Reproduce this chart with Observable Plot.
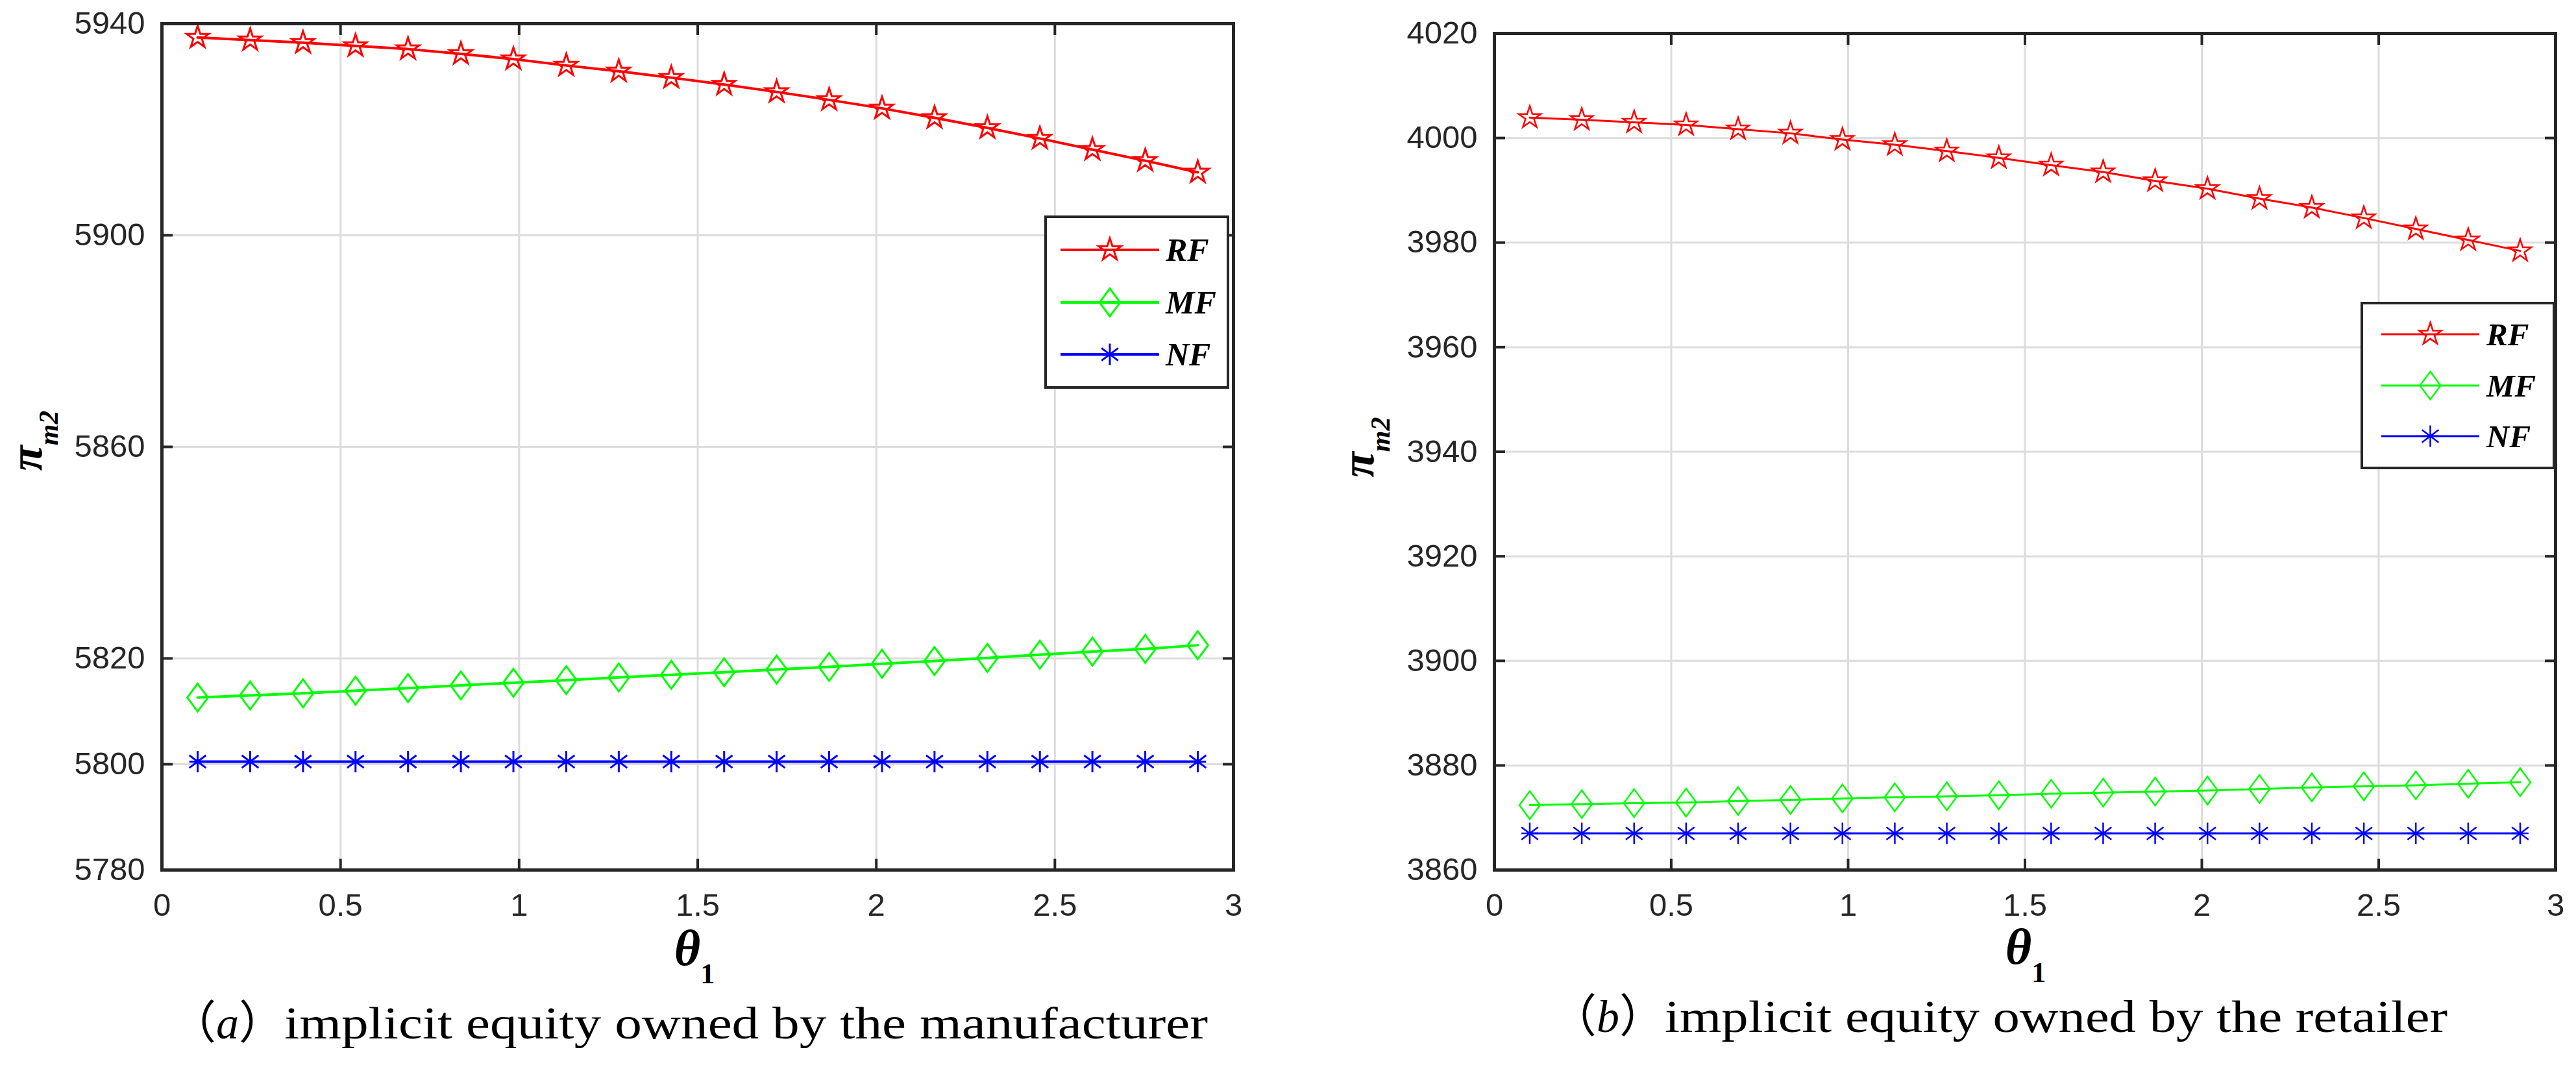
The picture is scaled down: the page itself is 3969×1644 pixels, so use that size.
<!DOCTYPE html>
<html>
<head>
<meta charset="utf-8">
<script src="https://cdn.jsdelivr.net/npm/d3@7"></script>
<script src="https://cdn.jsdelivr.net/npm/@observablehq/plot@0.6"></script>
<style>
  html, body { margin: 0; padding: 0; background: #fff; }
  #page { position: relative; width: 3969px; height: 1644px; overflow: hidden; background: #fff; }
  #page > svg { position: absolute; top: 0; }
</style>
</head>
<body>
<div id="page"></div>
<script>
// theta_1 sampled at 20 points between 0.1 and 2.9
const theta = [0.100, 0.247, 0.395, 0.542, 0.689, 0.837, 0.984, 1.132, 1.279, 1.426,
               1.574, 1.721, 1.868, 2.016, 2.163, 2.311, 2.458, 2.605, 2.753, 2.900];
const seriesNames = ['RF', 'MF', 'NF'];
const seriesColors = ['#ff0000', '#00ff00', '#0000ff'];
const xTicks = [0, 0.5, 1, 1.5, 2, 2.5, 3];

// (a) implicit equity owned by the manufacturer
const mfgRF = [5937.4, 5936.9, 5936.4, 5935.8, 5935.2, 5934.3, 5933.3, 5932.1, 5931.0, 5929.8,
               5928.5, 5927.1, 5925.6, 5924.0, 5922.2, 5920.3, 5918.3, 5916.2, 5914.1, 5911.9];
const mfgMF = [5812.6, 5813.0, 5813.4, 5813.9, 5814.4, 5814.9, 5815.4, 5815.9, 5816.4, 5816.9,
               5817.4, 5817.9, 5818.4, 5819.0, 5819.5, 5820.1, 5820.7, 5821.3, 5821.8, 5822.5];
const mfgNF = [5800.5, 5800.5, 5800.5, 5800.5, 5800.5, 5800.5, 5800.5, 5800.5, 5800.5, 5800.5,
               5800.5, 5800.5, 5800.5, 5800.5, 5800.5, 5800.5, 5800.5, 5800.5, 5800.5, 5800.5];
const mfgYTicks = [5780, 5800, 5820, 5860, 5900, 5940];

// (b) implicit equity owned by the retailer
const retRF = [4003.9, 4003.5, 4003.0, 4002.5, 4001.7, 4000.9, 3999.7, 3998.7, 3997.5, 3996.2,
               3994.8, 3993.5, 3991.8, 3990.3, 3988.4, 3986.7, 3984.7, 3982.6, 3980.5, 3978.4];
const retMF = [3872.4, 3872.6, 3872.8, 3872.9, 3873.2, 3873.4, 3873.7, 3873.9, 3874.1, 3874.3,
               3874.6, 3874.8, 3875.0, 3875.2, 3875.5, 3875.8, 3876.0, 3876.2, 3876.5, 3876.8];
const retNF = [3867.0, 3867.0, 3867.0, 3867.0, 3867.0, 3867.0, 3867.0, 3867.0, 3867.0, 3867.0,
               3867.0, 3867.0, 3867.0, 3867.0, 3867.0, 3867.0, 3867.0, 3867.0, 3867.0, 3867.0];
const retYTicks = [3860, 3880, 3900, 3920, 3940, 3960, 3980, 4000, 4020];

// MATLAB-like marker shapes: pentagram, tall diamond, asterisk
const pentagram = {
  draw(ctx, size) {
    const R = Math.sqrt(size / Math.PI), r = R * 0.382;
    for (let i = 0; i < 10; i++) {
      const a = -Math.PI / 2 + i * Math.PI / 5, rr = i % 2 ? r : R;
      if (i) ctx.lineTo(rr * Math.cos(a), rr * Math.sin(a));
      else ctx.moveTo(rr * Math.cos(a), rr * Math.sin(a));
    }
    ctx.closePath();
  }
};
const tallDiamond = {
  draw(ctx, size) {
    const h = Math.sqrt(size / Math.PI), w = h * 0.74;
    ctx.moveTo(0, -h); ctx.lineTo(w, 0); ctx.lineTo(0, h); ctx.lineTo(-w, 0); ctx.closePath();
  }
};
const asterisk = {
  draw(ctx, size) {
    const h = Math.sqrt(size / Math.PI), d = h * 0.78;
    ctx.moveTo(0, -h); ctx.lineTo(0, h);
    ctx.moveTo(-d, -d * 0.75); ctx.lineTo(d, d * 0.75);
    ctx.moveTo(-d, d * 0.75); ctx.lineTo(d, -d * 0.75);
    ctx.moveTo(-d, 0); ctx.lineTo(d, 0);
  }
};
const seriesSymbols = [pentagram, tallDiamond, asterisk];
const seriesR = [18, 21.5, 16.5];

function panelData(rf, mf, nf) {
  return [rf, mf, nf].flatMap((vals, k) =>
    vals.map((v, i) => ({theta: theta[i], value: v, series: seriesNames[k]})));
}

function panel(opts) {
  const data = panelData(...opts.series);
  const seriesMarks = seriesNames.flatMap((name, k) => {
    const rows = data.filter(d => d.series === name);
    return [
      Plot.line(rows, {x: 'theta', y: 'value', stroke: seriesColors[k], strokeWidth: opts.lineWidth}),
      Plot.dot(rows, {x: 'theta', y: 'value', stroke: seriesColors[k], fill: 'none',
        symbol: seriesSymbols[k], r: seriesR[k], strokeWidth: opts.markerWidth})
    ];
  });
  const axisStyle = {tickSize: -17, strokeWidth: 4, label: null};
  return Plot.plot({
    width: opts.width, height: 1500,
    marginLeft: opts.marginLeft, marginRight: opts.marginRight,
    marginTop: opts.marginTop, marginBottom: 160,
    style: {fontSize: '49px', fontFamily: '"Liberation Sans", Arial, sans-serif',
      color: '#262626', background: 'none', overflow: 'visible'},
    x: {domain: [0, 3], label: null},
    y: {domain: opts.yDomain, label: null},
    marks: [
      Plot.gridX(xTicks, {stroke: '#dcdcdc', strokeOpacity: 1, strokeWidth: 3}),
      Plot.gridY(opts.yTicks, {stroke: '#dcdcdc', strokeOpacity: 1, strokeWidth: 3}),
      ...seriesMarks,
      Plot.frame({stroke: '#262626', strokeWidth: 5}),
      Plot.axisX(xTicks, {...axisStyle, anchor: 'bottom', tickPadding: 53, tickFormat: d => String(d)}),
      Plot.axisX(xTicks, {...axisStyle, anchor: 'top', tickFormat: () => ''}),
      Plot.axisY(opts.yTicks, {...axisStyle, anchor: 'left', tickPadding: 43, tickFormat: d => String(d)}),
      Plot.axisY(opts.yTicks, {...axisStyle, anchor: 'right', tickFormat: () => ''})
    ]
  });
}

const page = document.getElementById('page');

const left = panel({
  series: [mfgRF, mfgMF, mfgNF], yDomain: [5780, 5940], yTicks: mfgYTicks,
  width: 1969, marginLeft: 249, marginRight: 69, marginTop: 36,
  lineWidth: 4, markerWidth: 3
});
left.style.left = '0px';
page.append(left);

const right = panel({
  series: [retRF, retMF, retNF], yDomain: [3860, 4020], yTicks: retYTicks,
  width: 1969, marginLeft: 302, marginRight: 32, marginTop: 51,
  lineWidth: 3, markerWidth: 2.5
});
right.style.left = '2000px';
page.append(right);

// labels, captions and legends on top
const overlay = d3.select(page).append('svg')
  .attr('width', 3969).attr('height', 1644)
  .style('left', '0px').style('pointer-events', 'none');

const serif = 'Liberation Serif, Times New Roman, serif';

function yLabel(x, y) {
  const t = overlay.append('text')
    .attr('transform', `translate(${x},${y}) rotate(-90)`)
    .attr('text-anchor', 'middle')
    .attr('font-family', serif).attr('font-weight', 'bold').attr('font-style', 'italic')
    .attr('fill', '#000');
  t.append('tspan').attr('font-size', 72).text('π');
  t.append('tspan').attr('font-size', 42).attr('dy', 25).text('m2');
}
yLabel(64, 679);
yLabel(2116, 689);

function xLabel(x, y) {
  const t = overlay.append('text')
    .attr('x', x).attr('y', y)
    .attr('text-anchor', 'middle')
    .attr('font-family', serif).attr('font-weight', 'bold')
    .attr('fill', '#000');
  t.append('tspan').attr('font-size', 78).attr('font-style', 'italic').text('θ');
  t.append('tspan').attr('font-size', 44).attr('dy', 28).text('1');
}
xLabel(1070, 1487);
xLabel(3121, 1485);

function caption(letter, text, x, y, len) {
  const p = overlay.append('text')
    .attr('x', x).attr('y', y).attr('text-anchor', 'end')
    .attr('font-family', `${serif}, Noto Sans CJK SC`).attr('font-size', 70).attr('fill', '#000');
  p.append('tspan').text('（');
  p.append('tspan').attr('font-style', 'italic').text(letter);
  p.append('tspan').text('）');
  overlay.append('text')
    .attr('x', x).attr('y', y)
    .attr('font-family', serif).attr('font-size', 70).attr('fill', '#000')
    .attr('textLength', len).attr('lengthAdjust', 'spacingAndGlyphs')
    .text(text);
}
caption('a', 'implicit equity owned by the manufacturer', 438, 1600, 1423);
caption('b', 'implicit equity owned by the retailer', 2565, 1590, 1206);

function legend(box, rowY, lineX, textX, fontSize, lineWidth, markerWidth) {
  overlay.append('rect')
    .attr('x', box[0]).attr('y', box[1]).attr('width', box[2] - box[0]).attr('height', box[3] - box[1])
    .attr('fill', '#fff').attr('stroke', '#262626').attr('stroke-width', 4);
  seriesNames.forEach((name, k) => {
    const cy = rowY[k], cx = (lineX[0] + lineX[1]) / 2;
    overlay.append('line')
      .attr('x1', lineX[0]).attr('x2', lineX[1]).attr('y1', cy).attr('y2', cy)
      .attr('stroke', seriesColors[k]).attr('stroke-width', lineWidth);
    const p = d3.path();
    seriesSymbols[k].draw(p, seriesR[k] * seriesR[k] * Math.PI);
    overlay.append('path')
      .attr('d', p.toString()).attr('transform', `translate(${cx},${cy})`)
      .attr('fill', 'none').attr('stroke', seriesColors[k]).attr('stroke-width', markerWidth);
    overlay.append('text')
      .attr('x', textX).attr('y', cy + 17)
      .attr('font-family', serif).attr('font-weight', 'bold').attr('font-style', 'italic')
      .attr('font-size', fontSize).attr('fill', '#000')
      .text(name);
  });
}
legend([1611, 334, 1892, 597], [385, 466, 546], [1634, 1786], 1796, 50, 4, 3);
legend([3639, 467, 3935, 721], [515, 594, 672], [3669, 3820], 3831, 49, 3, 2.5);
</script>
</body>
</html>
